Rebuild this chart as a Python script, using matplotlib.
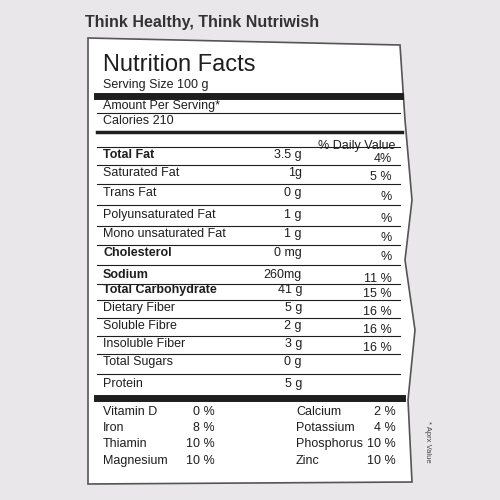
import matplotlib
matplotlib.use("Agg")
import matplotlib.pyplot as plt
from matplotlib.patches import Polygon

plt.rcParams["font.family"] = ["Liberation Sans", "DejaVu Sans"]

# nutrient rows: name, bold, amount, daily value, y
row_names = ["Total Fat", "Saturated Fat", "Trans Fat", "Polyunsaturated Fat",
             "Mono unsaturated Fat", "Cholesterol", "Sodium", "Total Carbohydrate",
             "Dietary Fiber", "Soluble Fibre", "Insoluble Fiber", "Total Sugars", "Protein"]
row_bold = [True, False, False, False, False, True, True, True, False, False, False, False, False]
row_amount = ["3.5 g", "1g", "0 g", "1 g", "1 g", "0 mg", "260mg", "41 g", "5 g", "2 g", "3 g", "0 g", "5 g"]
row_dv = ["4%", "5 %", "%", "%", "%", "%", "11 %", "15 %", "16 %", "16 %", "16 %", "", ""]
row_y = [155, 173, 193, 215, 234, 253, 275, 290, 308, 326, 344, 362, 384]

vit_left = [("Vitamin D", "0 %"), ("Iron", "8 %"), ("Thiamin", "10 %"), ("Magnesium", "10 %")]
vit_right = [("Calcium", "2 %"), ("Potassium", "4 %"), ("Phosphorus", "10 %"), ("Zinc", "10 %")]
vit_y = [412, 428, 444, 461]

fig = plt.figure(figsize=(5, 5), dpi=100)
fig.patch.set_facecolor("#e9e7ea")
ax = fig.add_axes([0, 0, 1, 1])
ax.set_xlim(0, 500)
ax.set_ylim(500, 0)
ax.axis("off")

ax.add_patch(Polygon([(88, 38), (400, 45), (405, 120), (412, 200), (405, 260),
                      (415, 330), (408, 400), (412, 482), (88, 484)],
                     closed=True, facecolor="white", edgecolor="#555", lw=1.2))

ink = "#1e1e1e"
ax.text(85, 22, "Think Healthy, Think Nutriwish", fontsize=11.5, weight="bold",
        color="#333", va="center")
ax.text(103, 65, "Nutrition Facts", fontsize=17, color=ink, va="center")
ax.text(103, 85, "Serving Size 100 g", fontsize=9, color=ink, va="center")
ax.plot([97, 400], [96, 96], color=ink, lw=5)
ax.text(103, 106, "Amount Per Serving*", fontsize=9, color=ink, va="center")
ax.plot([97, 400], [113, 113], color=ink, lw=0.8)
ax.text(103, 121, "Calories 210", fontsize=9, color=ink, va="center")
ax.plot([97, 402], [132, 132], color=ink, lw=2.5)
ax.text(318, 146, "% Daily Value", fontsize=9, color=ink, va="center")

for i, (name, b, amt, dv, y) in enumerate(zip(row_names, row_bold, row_amount, row_dv, row_y)):
    ax.text(103, y, name, fontsize=9, color=ink, va="center",
            weight="bold" if b else "normal")
    ax.text(302, y, amt, fontsize=9, color=ink, va="center", ha="right")
    ax.text(392, y + 4, dv, fontsize=9, color=ink, va="center", ha="right")
    if i < len(row_y) - 1:
        ly = (y + row_y[i + 1]) / 2 + 1
        ax.plot([97, 400], [ly, ly], color=ink, lw=0.8)
ax.plot([97, 400], [147, 147], color=ink, lw=0.8)
ax.plot([97, 402], [398, 398], color=ink, lw=5)

for (n, v), (n2, v2), y in zip(vit_left, vit_right, vit_y):
    ax.text(103, y, n, fontsize=9, color=ink, va="center")
    ax.text(215, y, v, fontsize=9, color=ink, va="center", ha="right")
    ax.text(296, y, n2, fontsize=9, color=ink, va="center")
    ax.text(396, y, v2, fontsize=9, color=ink, va="center", ha="right")

ax.text(428, 442, "* Aprx Value", fontsize=5.5, color="#444", rotation=270,
        va="center", ha="center")

fig.savefig("out.png", dpi=100, facecolor=fig.get_facecolor())
